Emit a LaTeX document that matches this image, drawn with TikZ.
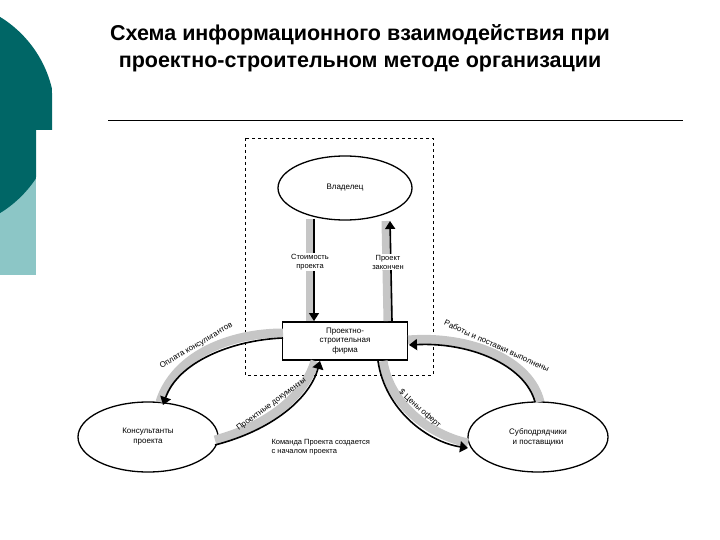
\documentclass[tikz,border=0pt]{standalone}
\usepackage{fontspec}
\setmainfont{Liberation Sans}
\usetikzlibrary{arrows.meta,shapes.geometric}
\begin{document}
\begin{tikzpicture}[x=1pt,y=-1pt,
  band/.style={line width=9pt,gray!45},
  bandedge/.style={line width=1.6pt,black},
  lbl/.style={font=\fontsize{7.5}{9}\selectfont,align=center},
  clbl/.style={font=\fontsize{8}{9}\selectfont,sloped,inner sep=0pt},
  oval/.style={draw,line width=1.3pt,ellipse,fill=white,font=\fontsize{8}{10}\selectfont,align=center}]
\useasboundingbox (0,0) rectangle (720,540);
% teal decoration
\begin{scope}
\clip (0,0) rectangle (52,130) (0,130) rectangle (36,300);
\fill[teal!45!white] (0,170) rectangle (36,275);
\fill[teal!80!black] (-60,115) circle (115);
\end{scope}
\node[font=\bfseries\fontsize{21.5}{27}\selectfont,align=center] (title) at (360,48)
  {Схема информационного взаимодействия при\\проектно-строительном методе организации};
\draw[line width=0.8pt] (108,120) -- (683,120);
% dashed box
\draw[dashed,line width=0.6pt] (245,138) rectangle (433,375);
\node[oval,minimum width=134pt,minimum height=64pt] (own) at (345,188) {Владелец};
\node[draw,line width=1.3pt,fill=white,minimum width=125pt,minimum height=38pt,lbl,font=\fontsize{8}{9.5}\selectfont] (firm) at (345,341) {Проектно-\\строительная\\фирма};
\node[oval,minimum width=140pt,minimum height=70pt] (cons) at (148,437) {Консультанты\\проекта};
\node[oval,minimum width=140pt,minimum height=70pt] (sub) at (538,437) {Субподрядчики\\и поставщики};
% vertical arrows
\coordinate (a1) at (310,219); \coordinate (a2) at (310,321);
\coordinate (b1) at (388,321); \coordinate (b2) at (386,221);
\draw[band] (a1) -- (a2); \draw[bandedge,-{Triangle[width=10pt,length=8pt]}] ([xshift=4pt]a1) -- ([xshift=4pt]a2);
\draw[band] (b1) -- (b2); \draw[bandedge,-{Triangle[width=10pt,length=8pt]}] ([xshift=4pt]b1) -- ([xshift=4pt]b2);
\node[lbl,fill=white,inner sep=1pt] (l1) at (310,262) {Стоимость\\проекта};
\node[lbl,fill=white,inner sep=1pt] (l2) at (388,262) {Проект\\закончен};
% curved arrows
\coordinate (c1) at (160,402); \coordinate (c2) at (283,333);
\draw[band] (c1) .. controls (175,355) and (230,333) .. (c2);
\draw[bandedge,{Triangle[width=11pt,length=8pt]}-] (163,405) .. controls (178,362) and (232,340) .. (283,338);
\path (c1) .. controls (175,355) and (230,333) .. node[clbl,pos=0.45,above=5pt] (t1) {Оплата консультантов} (c2);
\coordinate (d1) at (215,440); \coordinate (d2) at (315,361);
\draw[band] (d1) .. controls (270,425) and (305,395) .. (d2);
\draw[bandedge,-{Triangle[width=11pt,length=8pt]}] (215,445) .. controls (273,430) and (310,398) .. (320,361);
\path (d1) .. controls (270,425) and (305,395) .. node[clbl,pos=0.45,above=5pt] (t2) {Проектные документы} (d2);
\coordinate (e1) at (383,361); \coordinate (e2) at (468,443);
\draw[band] (e1) .. controls (390,405) and (430,435) .. (e2);
\draw[bandedge,-{Triangle[width=11pt,length=8pt]}] (378,361) .. controls (385,410) and (428,442) .. (468,448);
\path (e1) .. controls (390,405) and (430,435) .. node[clbl,pos=0.5,above=5pt] (t3) {\$ Цены оферт} (e2);
\coordinate (f1) at (408,340); \coordinate (f2) at (540,402);
\draw[band] (f1) .. controls (470,335) and (530,360) .. (f2);
\draw[bandedge,{Triangle[width=11pt,length=8pt]}-] (409,345) .. controls (470,342) and (525,365) .. (535,402);
\path (f1) .. controls (470,335) and (530,360) .. node[clbl,pos=0.5,above=5pt] (t4) {Работы и поставки выполнены} (f2);
\node[lbl,align=left,anchor=west] (team) at (268,447) {Команда Проекта создается\\с началом проекта};
\end{tikzpicture}
\end{document}
